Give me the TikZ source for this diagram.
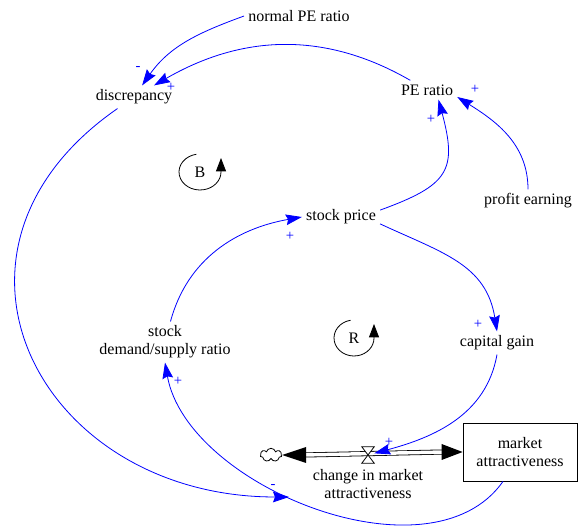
\documentclass[tikz,border=0pt]{standalone}
\usepackage{fontspec}
\setmainfont{Liberation Serif}
\usetikzlibrary{arrows.meta,shapes.symbols}

\begin{document}
\begin{tikzpicture}[x=.75pt,y=.75pt,>={Stealth[length=12pt,width=8pt,inset=1.5pt]},
  var/.style={font=\fontsize{12}{13.5}\selectfont,align=center,inner sep=3pt},
  link/.style={blue,line width=.6pt,->},
  pol/.style={blue,font=\fontsize{11}{11}\selectfont,inner sep=0pt},
  loopmark/.style={line width=.6pt,-{Triangle[length=10pt,width=7.5pt]}},
  pipe/.style={double,double distance=2.6pt,line width=.6pt}]
\useasboundingbox (0,0) rectangle (578,531);
% variables
\node[var] (npe) at (299,515) {normal PE ratio};
\node[var] (disc) at (134,434) {discrepancy};
\node[var] (pe) at (427,441) {PE ratio};
\node[var] (profit) at (528,330) {profit earning};
\node[var] (sp) at (341,314) {stock price};
\node[var] (cg) at (497,188) {capital gain};
\node[var] (dsr) at (165,189) {stock\\demand/supply ratio};
\node[var,draw,line width=.6pt,minimum width=85.5pt,minimum height=43.5pt] (ma) at (520,79) {market\\attractiveness};
% flow
\node[cloud,draw,cloud puffs=7,aspect=1.6,inner sep=0pt,minimum width=16pt,minimum height=10pt,line width=.6pt] (cloud) at (271,76) {};
\node[inner sep=0pt,minimum width=9pt,minimum height=12pt] (valve) at (368,76) {};
\node[var] (flow) at (368,47) {change in market\\attractiveness};
\draw[pipe] ([xshift=16pt]cloud.east) -- ([xshift=-14pt]ma.west);
\fill (cloud.east) -- ++(24,8) -- ++(0,-16) -- cycle;
\fill (ma.west) -- ++(-21,8) -- ++(0,-16) -- cycle;
\filldraw[fill=white,line width=.6pt] (valve.north west) -- (valve.north east) -- (valve.south west) -- (valve.south east) -- cycle;
% loops
\node[var] (loopB) at (200,359) {B};
\draw[loopmark] ([shift={(100:21 and 18)}]loopB.center) arc[start angle=100,end angle=360,x radius=21,y radius=18] -- ++(0,14);
\node[var] (loopR) at (354,193) {R};
\draw[loopmark] ([shift={(100:20 and 18)}]loopR.center) arc[start angle=100,end angle=360,x radius=20,y radius=18] -- ++(0,14);
% links
\draw[link] (npe.west) to[out=200,in=55] (disc);
\draw[link] (pe) to[out=150,in=30] (disc);
\draw[link] (sp.10) to[out=20,in=-75,looseness=1.5] (pe.-40);
\draw[link] (profit) to[out=90,in=-32] (pe.-13);
\draw[link] (dsr.75) to[out=75,in=190] (sp.west);
\draw[link] (sp.-10) to[out=-25,in=99,looseness=1.1] (cg.north);
\draw[link] (cg.south) to[out=-100,in=15] (valve);
\draw[link] (ma.-120) to[out=-125,in=-80,looseness=.9] (dsr.south);
\coordinate (dflow) at (289,34);
\draw[link] (disc.-145) .. controls +(-205,-142) and +(-250,0) .. (dflow);
% polarities
\node[pol] (s1) at (138,462) {-};
\node[pol] (s2) at (171,444) {+};
\node[pol] (s3) at (431,412) {+};
\node[pol] (s4) at (475,442) {+};
\node[pol] (s5) at (290,295) {+};
\node[pol] (s6) at (478,207) {+};
\node[pol] (s7) at (389,89) {+};
\node[pol] (s8) at (178,150) {+};
\node[pol] (s9) at (273,44) {-};
\end{tikzpicture}
\end{document}
